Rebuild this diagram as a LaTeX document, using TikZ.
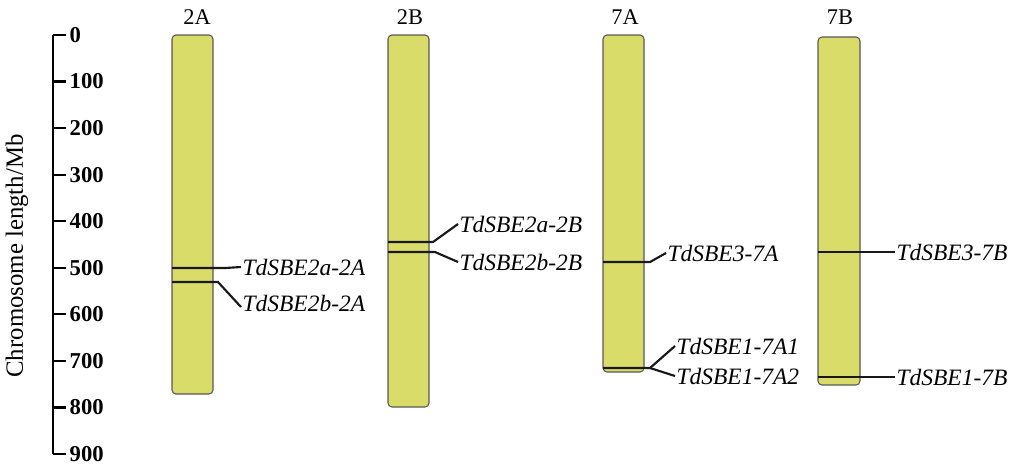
\documentclass[tikz,border=0pt]{standalone}
\usepackage{fontspec}
\setmainfont{Liberation Serif}
\definecolor{chromfill}{RGB}{218,220,106}
\begin{document}
\begin{tikzpicture}[x=0.75pt,y=-0.75pt,
  chrom/.style={draw=black!65, fill=chromfill, rounded corners=3pt, line width=0.8pt},
  gline/.style={line width=1.6pt, black!90},
  glabel/.style={font=\itshape\fontsize{17.6}{19}\selectfont, anchor=west, inner sep=1pt},
  clabel/.style={font=\fontsize{16.8}{18}\selectfont, inner sep=0pt},
  ticklab/.style={font=\bfseries\fontsize{17}{19}\selectfont, anchor=west, inner sep=0pt},
  axis/.style={line width=1.6pt, black}
]
\useasboundingbox (0,0) rectangle (1013,469);
% axis
\coordinate (atop) at (53,35);
\coordinate (abot) at (53,454);
\draw[axis] (atop) -- (abot);
\foreach \v [count=\i from 0] in {0,100,...,900}{
  \coordinate (t\i) at (53,35+\i*46.56);
  \draw[axis] (t\i) -- ++(13,0) node[ticklab, xshift=2pt] (tl\i) {\v};
}
\node[clabel, rotate=90, font=\fontsize{18.6}{20}\selectfont] (atitle) at (17,256) {Chromosome length/Mb};
% chromosomes
\path[chrom] (172,35) rectangle (213,394);
\path[chrom] (388,35) rectangle (429,407);
\path[chrom] (603,35) rectangle (644,372);
\path[chrom] (818,37) rectangle (860,385);
\node[clabel] (n2A) at (197,17) {2A};
\node[clabel] (n2B) at (410,17) {2B};
\node[clabel] (n7A) at (625,17) {7A};
\node[clabel] (n7B) at (840,17) {7B};
% 2A
\node[glabel] (g2a2A) at (241,267) {TdSBE2a-2A};
\node[glabel] (g2b2A) at (241,303) {TdSBE2b-2A};
\coordinate (m1) at (172,268);
\coordinate (m2) at (172,282);
\draw[gline] (m1) -- (225,268) -- (g2a2A.west);
\draw[gline] (m2) -- (218,282) -- ([yshift=-3pt]g2b2A.west);
% 2B
\node[glabel] (g2a2B) at (458,224) {TdSBE2a-2B};
\node[glabel] (g2b2B) at (458,262) {TdSBE2b-2B};
\coordinate (m3) at (388,242);
\coordinate (m4) at (388,252);
\draw[gline] (m3) -- (433,242) -- (g2a2B.west);
\draw[gline] (m4) -- (435,252) -- (g2b2B.west);
% 7A
\node[glabel] (g37A) at (666,253) {TdSBE3-7A};
\node[glabel] (g17A1) at (675,346) {TdSBE1-7A1};
\node[glabel] (g17A2) at (675,376) {TdSBE1-7A2};
\coordinate (m5) at (603,262);
\coordinate (m6) at (603,368);
\draw[gline] (m5) -- (650,262) -- (g37A.west);
\draw[gline] (m6) -- (650,368) coordinate (br) -- (g17A1.west);
\draw[gline] (br) -- (g17A2.west);
% 7B
\node[glabel] (g37B) at (895,252) {TdSBE3-7B};
\node[glabel] (g17B) at (895,377) {TdSBE1-7B};
\coordinate (m7) at (818,252);
\coordinate (m8) at (818,377);
\draw[gline] (m7) -- (g37B.west);
\draw[gline] (m8) -- (g17B.west);
\end{tikzpicture}
\end{document}
